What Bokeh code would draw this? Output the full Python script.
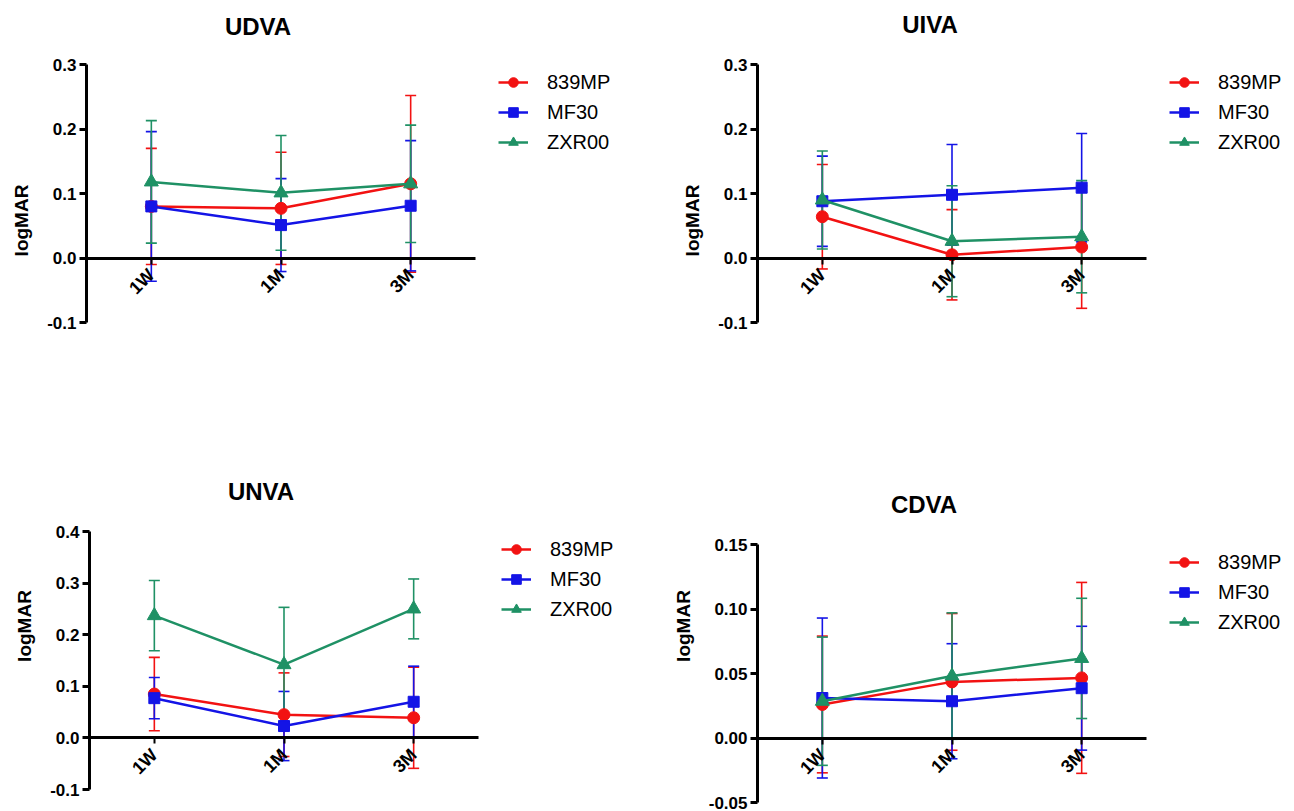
import numpy as np
from bokeh.plotting import figure
from bokeh.models import (ColumnDataSource, Range1d, LinearAxis, FixedTicker,
                          NumeralTickFormatter, Whisker, TeeHead, Legend, LegendItem, Label)
from bokeh.layouts import column, row
from bokeh.embed import file_html
from bokeh.resources import INLINE

timepoints = ["1W", "1M", "3M"]
series_names = ["839MP", "MF30", "ZXR00"]

# UDVA
udva_839mp_mean = [0.080, 0.077, 0.115]
udva_839mp_sd = [0.090, 0.087, 0.137]
udva_mf30_mean = [0.080, 0.051, 0.081]
udva_mf30_sd = [0.116, 0.072, 0.101]
udva_zxr00_mean = [0.118, 0.101, 0.115]
udva_zxr00_sd = [0.095, 0.089, 0.091]

# UIVA
uiva_839mp_mean = [0.064, 0.005, 0.017]
uiva_839mp_sd = [0.081, 0.070, 0.095]
uiva_mf30_mean = [0.088, 0.098, 0.109]
uiva_mf30_sd = [0.070, 0.078, 0.084]
uiva_zxr00_mean = [0.090, 0.026, 0.033]
uiva_zxr00_sd = [0.076, 0.086, 0.087]

# UNVA
unva_839mp_mean = [0.085, 0.045, 0.039]
unva_839mp_sd = [0.071, 0.081, 0.098]
unva_mf30_mean = [0.077, 0.023, 0.070]
unva_mf30_sd = [0.040, 0.067, 0.069]
unva_zxr00_mean = [0.237, 0.142, 0.250]
unva_zxr00_sd = [0.068, 0.111, 0.058]

# CDVA
cdva_839mp_mean = [0.026, 0.0435, 0.0466]
cdva_839mp_sd = [0.053, 0.053, 0.074]
cdva_mf30_mean = [0.031, 0.0285, 0.0386]
cdva_mf30_sd = [0.062, 0.0446, 0.048]
cdva_zxr00_mean = [0.0285, 0.048, 0.0617]
cdva_zxr00_sd = [0.0497, 0.049, 0.0466]

ticks_a = [-0.1, 0.0, 0.1, 0.2, 0.3]
ticks_unva = [-0.1, 0.0, 0.1, 0.2, 0.3, 0.4]
ticks_cdva = [-0.05, 0.0, 0.05, 0.10, 0.15]

COLORS = ["#F21212", "#1414E6", "#1F9165"]
MARKERS = ["circle", "square", "triangle"]
MSIZE = [12, 11, 14]
FONT = "Liberation Sans"
PLOT_W = 389      # pixel width of the axes box
PLOT_H = 258      # pixel height of the axes box
LEG_H = 94        # legend box height (3 items of 24 + 2 gaps of 6 + padding)


def make_panel(title, means, sds, yticks, fmt, width, height, left, top, title_dx, title_up):
    n = len(timepoints)
    xs = list(range(n))
    ppu_x = PLOT_W / n
    x_start = -0.5
    x_end = x_start + (width - left) / ppu_x
    ymin, ymax = yticks[0], yticks[-1]
    upp_y = (ymax - ymin) / PLOT_H
    y_end = ymax + top * upp_y
    y_start = ymin - (height - top - PLOT_H) * upp_y

    p = figure(width=width, height=height, x_range=Range1d(x_start, x_end),
               y_range=Range1d(y_start, y_end), x_axis_location=None,
               output_backend="svg", toolbar_location=None,
               min_border_left=left, min_border_right=0, min_border_top=0, min_border_bottom=0)
    p.outline_line_color = None
    p.grid.visible = False
    p.background_fill_color = "white"
    p.border_fill_color = "white"

    ya = p.yaxis[0]
    ya.bounds = (ymin, ymax)
    ya.ticker = FixedTicker(ticks=yticks)
    ya.formatter = NumeralTickFormatter(format=fmt)
    ya.axis_line_width = 3
    ya.major_tick_line_width = 3
    ya.major_tick_out = 7
    ya.major_tick_in = 0
    ya.minor_tick_line_color = None
    ya.major_label_standoff = 3
    ya.major_label_text_font = FONT
    ya.major_label_text_font_style = "bold"
    ya.major_label_text_font_size = "17px"
    ya.major_label_text_color = "black"
    ya.axis_label = "logMAR"
    ya.axis_label_text_font = FONT
    ya.axis_label_text_font_style = "bold"
    ya.axis_label_text_font_size = "19px"
    ya.axis_label_text_color = "black"
    ya.axis_label_standoff = 12

    xa = LinearAxis(fixed_location=0, bounds=(-0.5, n - 0.5))
    xa.ticker = FixedTicker(ticks=xs)
    xa.major_label_overrides = {i: t for i, t in enumerate(timepoints)}
    xa.axis_line_width = 3
    xa.major_tick_out = 6
    xa.major_tick_in = 0
    xa.major_tick_line_width = 2
    xa.minor_tick_line_color = None
    xa.major_label_orientation = np.pi / 4
    xa.major_label_standoff = 8
    xa.major_label_text_font = FONT
    xa.major_label_text_font_style = "bold"
    xa.major_label_text_font_size = "18px"
    xa.major_label_text_color = "black"
    p.add_layout(xa, "below")

    items = []
    for i, name in enumerate(series_names):
        m = np.array(means[i])
        s = np.array(sds[i])
        src = ColumnDataSource(dict(x=xs, y=m, upper=m + s, lower=m - s))
        w = Whisker(source=src, base="x", upper="upper", lower="lower", dimension="height",
                    line_color=COLORS[i], line_width=1.6, level="underlay",
                    upper_head=TeeHead(size=11, line_color=COLORS[i], line_width=1.6),
                    lower_head=TeeHead(size=11, line_color=COLORS[i], line_width=1.6))
        p.add_layout(w)
        ln = p.line("x", "y", source=src, line_color=COLORS[i], line_width=2.5)
        sc = p.scatter("x", "y", source=src, marker=MARKERS[i], size=MSIZE[i],
                       fill_color=COLORS[i], line_color=COLORS[i])
        items.append(LegendItem(label=name, renderers=[ln, sc]))

    leg = Legend(items=items, location=(PLOT_W + 23, height - top - LEG_H + 4),
                 border_line_color=None, background_fill_alpha=0,
                 label_text_font=FONT, label_text_font_size="20px", label_text_color="black",
                 glyph_width=30, glyph_height=24, label_height=24, spacing=6, padding=5,
                 label_standoff=19, margin=0)
    p.add_layout(leg, "center")

    t = Label(x=PLOT_W / 2 + title_dx, y=height - top + title_up, x_units="screen", y_units="screen",
              text=title, text_font=FONT, text_font_size="24px", text_font_style="bold",
              text_align="center", text_baseline="middle", text_color="black")
    p.add_layout(t)
    return p


p1 = make_panel("UDVA", [udva_839mp_mean, udva_mf30_mean, udva_zxr00_mean],
                [udva_839mp_sd, udva_mf30_sd, udva_zxr00_sd], ticks_a, "0.0",
                660, 440, 86, 64, -23, 38)
p2 = make_panel("UIVA", [uiva_839mp_mean, uiva_mf30_mean, uiva_zxr00_mean],
                [uiva_839mp_sd, uiva_mf30_sd, uiva_zxr00_sd], ticks_a, "0.0",
                630, 440, 97, 64, -22, 40)
p3 = make_panel("UNVA", [unva_839mp_mean, unva_mf30_mean, unva_zxr00_mean],
                [unva_839mp_sd, unva_mf30_sd, unva_zxr00_sd], ticks_unva, "0.0",
                660, 371, 89, 91, -23, 40)
p4 = make_panel("CDVA", [cdva_839mp_mean, cdva_mf30_mean, cdva_zxr00_mean],
                [cdva_839mp_sd, cdva_mf30_sd, cdva_zxr00_sd], ticks_cdva, "0.00",
                630, 371, 97, 104, -28, 40)

layout = column(row(p1, p2), row(p3, p4))
open("out.html", "w").write(file_html(layout, INLINE))
